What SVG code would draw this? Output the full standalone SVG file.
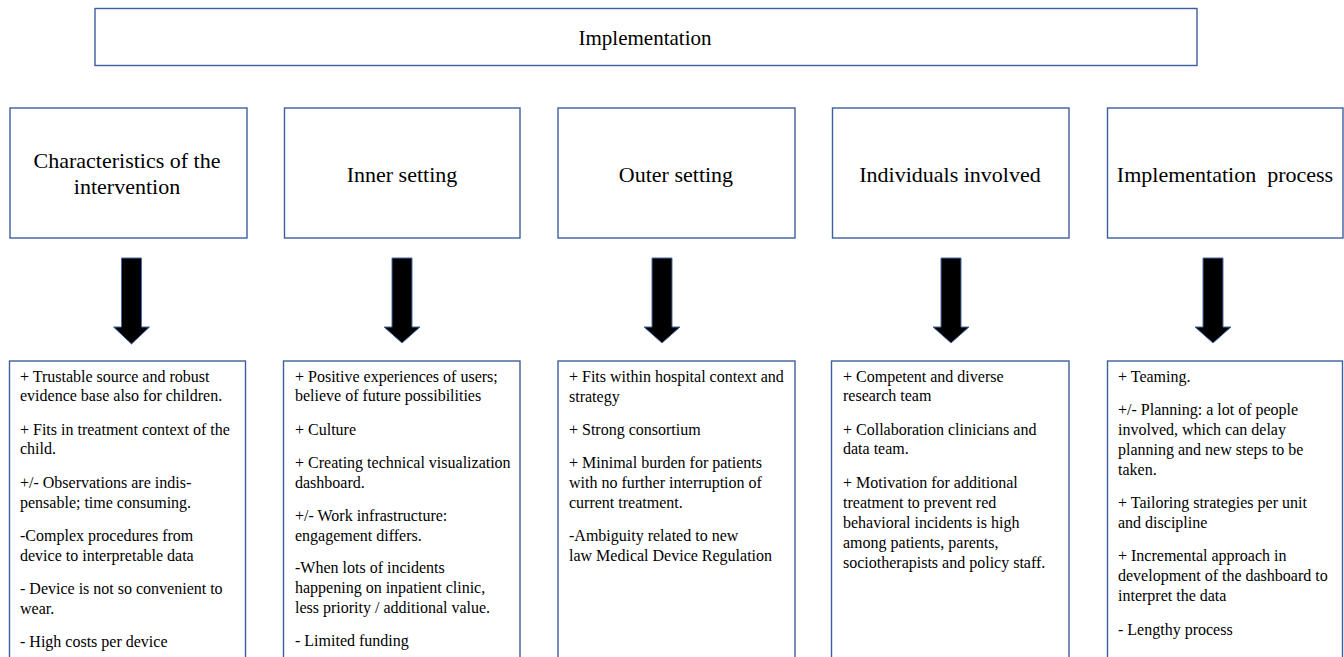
<svg xmlns="http://www.w3.org/2000/svg" width="1344" height="657" viewBox="0 0 1344 657">
<style>
.box{fill:#ffffff;stroke:#3E5F9E;stroke-width:1.4}
.title{font-family:"Liberation Serif","Times New Roman",serif;font-size:22px;fill:#000;text-anchor:middle}
.top{font-size:21px}
.body{font-family:"Liberation Serif","Times New Roman",serif;font-size:16px;fill:#000}
.arrow{fill:#000;stroke:#4A6AA8;stroke-width:1}
</style>
<rect width="1344" height="657" fill="#ffffff"/>
<g id="top">
<rect class="box" x="95" y="8.5" width="1102" height="57"/>
<text class="title top" x="645" y="45">Implementation</text>
</g>
<g id="h1">
<rect class="box" x="10" y="108" width="237" height="130"/>
<text class="title" x="127" y="168">Characteristics of the</text>
<text class="title" x="127" y="194">intervention</text>
</g>
<g id="h2">
<rect class="box" x="284.5" y="108" width="235.5" height="130"/>
<text class="title" x="402" y="182">Inner setting</text>
</g>
<g id="h3">
<rect class="box" x="558" y="108" width="237" height="130"/>
<text class="title" x="676" y="182">Outer setting</text>
</g>
<g id="h4">
<rect class="box" x="832.5" y="108" width="236.5" height="130"/>
<text class="title" x="950" y="182">Individuals involved</text>
</g>
<g id="h5">
<rect class="box" x="1107.5" y="108" width="235.5" height="130"/>
<text class="title" x="1225" y="182" xml:space="preserve">Implementation  process</text>
</g>
<g id="connectors">
<path class="arrow" d="M121.5,258 H141.5 V327 H149.5 L131.5,344 L113.5,327 H121.5 Z"/>
<path class="arrow" d="M392,258 H412 V327 H420 L402,343 L384,327 H392 Z"/>
<path class="arrow" d="M652,258 H672 V327 H680 L662,343 L644,327 H652 Z"/>
<path class="arrow" d="M941,258 H961 V327 H969 L951,343 L933,327 H941 Z"/>
<path class="arrow" d="M1203,258 H1223 V327 H1231 L1213,343 L1195,327 H1203 Z"/>
</g>
<g id="b1">
<rect class="box" x="9.5" y="361" width="236" height="320"/>
<text class="body" x="20" y="382">+ Trustable source and robust</text>
<text class="body" x="20" y="401">evidence base also for children.</text>
<text class="body" x="20" y="435">+ Fits in treatment context of the</text>
<text class="body" x="20" y="454">child.</text>
<text class="body" x="20" y="488">+/- Observations are indis-</text>
<text class="body" x="20" y="508">pensable; time consuming.</text>
<text class="body" x="20" y="541">-Complex procedures from</text>
<text class="body" x="20" y="561">device to interpretable data</text>
<text class="body" x="20" y="594">- Device is not so convenient to</text>
<text class="body" x="20" y="614">wear.</text>
<text class="body" x="20" y="647">- High costs per device</text>
</g>
<g id="b2">
<rect class="box" x="283.5" y="361" width="236.5" height="320"/>
<text class="body" x="295" y="382">+ Positive experiences of users;</text>
<text class="body" x="295" y="401">believe of future possibilities</text>
<text class="body" x="295" y="435">+ Culture</text>
<text class="body" x="295" y="468">+ Creating technical visualization</text>
<text class="body" x="295" y="488">dashboard.</text>
<text class="body" x="295" y="521">+/- Work infrastructure:</text>
<text class="body" x="295" y="541">engagement differs.</text>
<text class="body" x="295" y="573">-When lots of incidents</text>
<text class="body" x="295" y="593">happening on inpatient clinic,</text>
<text class="body" x="295" y="613">less priority / additional value.</text>
<text class="body" x="295" y="646">- Limited funding</text>
</g>
<g id="b3">
<rect class="box" x="558" y="361" width="237" height="320"/>
<text class="body" x="569" y="382">+ Fits within hospital context and</text>
<text class="body" x="569" y="402">strategy</text>
<text class="body" x="569" y="435">+ Strong consortium</text>
<text class="body" x="569" y="468">+ Minimal burden for patients</text>
<text class="body" x="569" y="488">with no further interruption of</text>
<text class="body" x="569" y="508">current treatment.</text>
<text class="body" x="569" y="541">-Ambiguity related to new</text>
<text class="body" x="569" y="561">law Medical Device Regulation</text>
</g>
<g id="b4">
<rect class="box" x="831.5" y="361" width="237.5" height="320"/>
<text class="body" x="843" y="382">+ Competent and diverse</text>
<text class="body" x="843" y="401">research team</text>
<text class="body" x="843" y="435">+ Collaboration clinicians and</text>
<text class="body" x="843" y="454">data team.</text>
<text class="body" x="843" y="488">+ Motivation for additional</text>
<text class="body" x="843" y="508">treatment to prevent red</text>
<text class="body" x="843" y="528">behavioral incidents is high</text>
<text class="body" x="843" y="548">among patients, parents,</text>
<text class="body" x="843" y="568">sociotherapists and policy staff.</text>
</g>
<g id="b5">
<rect class="box" x="1107.5" y="361" width="235" height="320"/>
<text class="body" x="1118" y="382">+ Teaming.</text>
<text class="body" x="1118" y="415">+/- Planning: a lot of people</text>
<text class="body" x="1118" y="435">involved, which can delay</text>
<text class="body" x="1118" y="455">planning and new steps to be</text>
<text class="body" x="1118" y="475">taken.</text>
<text class="body" x="1118" y="508">+ Tailoring strategies per unit</text>
<text class="body" x="1118" y="528">and discipline</text>
<text class="body" x="1118" y="561">+ Incremental approach in</text>
<text class="body" x="1118" y="581">development of the dashboard to</text>
<text class="body" x="1118" y="601">interpret the data</text>
<text class="body" x="1118" y="635">- Lengthy process</text>
</g>
</svg>
